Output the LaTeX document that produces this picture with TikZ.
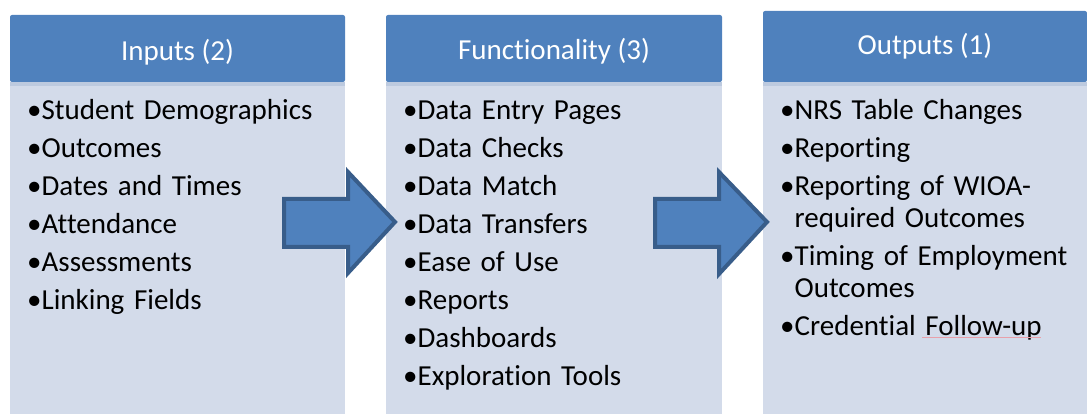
\documentclass[tikz,border=0pt]{standalone}
\usepackage{fontspec}
\setmainfont{Carlito}[Ligatures=NoCommon]

\definecolor{headblue}{HTML}{4F81BD}
\definecolor{bodyblue}{HTML}{D3DBEA}
\definecolor{bandblue}{HTML}{BDCADF}
\definecolor{arrowline}{HTML}{385D8A}
\definecolor{spellred}{HTML}{E8A0AA}

\newlength{\bulwd}
\newcommand{\bitem}[1]{\hangindent=\bulwd\hangafter=1\noindent\textbullet#1\par}

\tikzset{
  headtext/.style={anchor=base, inner sep=0pt, text=white,
    font=\fontsize{29}{32}\selectfont},
  listtext/.style={anchor=base west, inner sep=0pt, text width=#1,
    align=left, font=\fontsize{29}{32}\selectfont},
  blockarrow/.style={fill=headblue, draw=arrowline, line width=4pt, line join=miter}
}

\begin{document}
\begin{tikzpicture}[x=1pt,y=-1pt]
\useasboundingbox (0,0) rectangle (1087,414);

% column bodies and headers
\fill[bodyblue] (10,82) rectangle (345,414);
\fill[bandblue] (10,82) rectangle (345,86);
\fill[headblue, rounded corners=2pt] (10,15) rectangle (345,82);

\fill[bodyblue] (386,82) rectangle (722,414);
\fill[bandblue] (386,82) rectangle (722,86);
\fill[headblue, rounded corners=2pt] (386,15) rectangle (722,82);

\fill[bodyblue] (763,82) rectangle (1087,414);
\fill[bandblue] (763,82) rectangle (1087,86);
\fill[headblue, rounded corners=2pt] (763,11) rectangle (1087,82);

% header labels
\node[headtext] (inhead) at (177.5,61) {Inputs (2)};
\node[headtext] (funchead) at (554,60) {Functionality (3)};
\node[headtext] (outhead) at (925,55) {Outputs (1)};

% lists
\node[listtext=315pt] (inlist) at (27,120) {%
  \settowidth{\bulwd}{\textbullet}\setlength{\parskip}{6pt}%
  \bitem{Student Demographics}
  \bitem{Outcomes}
  \bitem{Dates and Times}
  \bitem{Attendance}
  \bitem{Assessments}
  \bitem{Linking Fields}};

\node[listtext=315pt] (funclist) at (403,120) {%
  \settowidth{\bulwd}{\textbullet}\setlength{\parskip}{6pt}%
  \bitem{Data Entry Pages}
  \bitem{Data Checks}
  \bitem{Data Match}
  \bitem{Data Transfers}
  \bitem{Ease of Use}
  \bitem{Reports}
  \bitem{Dashboards}
  \bitem{Exploration Tools}};

\node[listtext=300pt] (outlist) at (780,120) {%
  \settowidth{\bulwd}{\textbullet}\setlength{\parskip}{6pt}%
  \bitem{NRS Table Changes}
  \bitem{Reporting}
  \bitem{Reporting of WIOA-\newline required Outcomes}
  \bitem{Timing of Employment\newline Outcomes}
  \bitem{Credential Follow-up}};

% spell-check underline
\draw[spellred, line width=0.8pt] (922,337) -- (1041,337);

% block arrows
\draw[blockarrow] (284,199) -- (348,199) -- (348,172) -- (395,222)
  -- (348,273) -- (348,247) -- (284,247) -- cycle;
\draw[blockarrow] (655,199) -- (719,199) -- (719,172) -- (767,222)
  -- (719,274) -- (719,247) -- (655,247) -- cycle;
\end{tikzpicture}
\end{document}
